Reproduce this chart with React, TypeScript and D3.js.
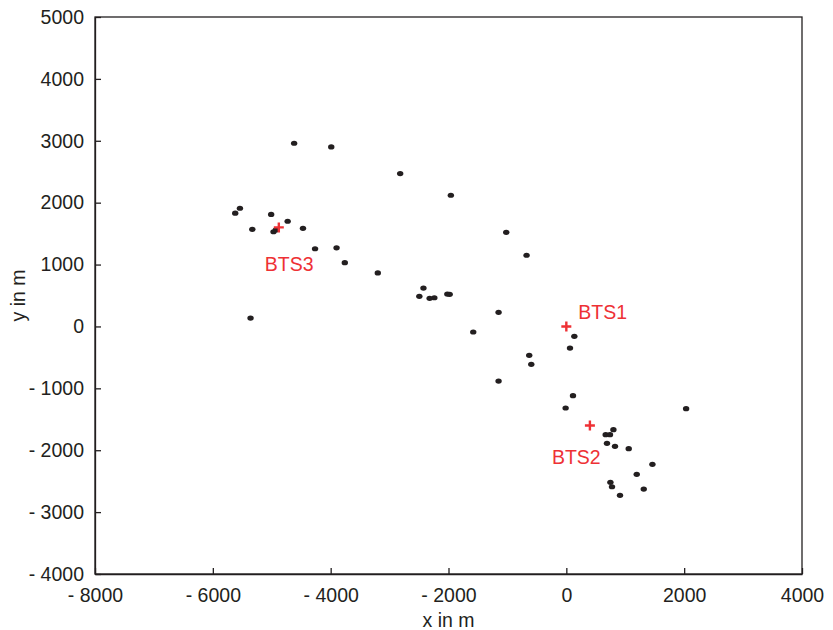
import { useEffect, useRef } from "react";
import * as d3 from "d3";

const WIDTH = 833;
const HEIGHT = 630;
const MARGIN = { top: 17, right: 31, bottom: 56, left: 95 };

const X_DOMAIN = [-8000, 4000];
const Y_DOMAIN = [-4000, 5000];
const X_TICKS = [-8000, -6000, -4000, -2000, 0, 2000, 4000];
const Y_TICKS = [-4000, -3000, -2000, -1000, 0, 1000, 2000, 3000, 4000, 5000];

// mobile positions (m)
const MS_X = [
  -4620, -3990, -2820, -1960, -5540, -5620, -5010, -4730, -5330, -4970, -4930,
  -4470, -4265, -3900, -3760, -3200, -1020, -675, -2425, -2495, -2320, -2240,
  -2020, -1980, -5360, -1150, -1580, -630, -595, -1150, 136, 62, 113, -12, 2033,
  799, 668, 741, 690, 826, 1059, 1461, 1195, 748, 775, 1314, 911,
];
const MS_Y = [
  2960, 2900, 2470, 2120, 1910, 1830, 1810, 1700, 1570, 1530, 1560, 1585, 1255,
  1270, 1030, 865, 1520, 1150, 620, 486, 454, 464, 523, 519, 136, 228, -90, -467,
  -612, -882, -160, -349, -1119, -1318, -1329, -1668, -1749, -1749, -1889,
  -1937, -1975, -2228, -2390, -2519, -2590, -2627, -2729,
];

// base stations
const BTS_NAMES = ["BTS1", "BTS2", "BTS3"];
const BTS_X = [0, 400, -4880];
const BTS_Y = [0, -1600, 1600];
// label offset from the cross, in px
const BTS_LABEL_DX = [12, -38, -14];
const BTS_LABEL_DY = [-7, 39, 44];

const FONT = "Helvetica, 'Liberation Sans', Arial, sans-serif";
const FONT_SIZE = 19.5;
const INK = "#231f20";
const RED = "#ee3135";

const fmt = (d: number) => (d < 0 ? `- ${Math.abs(d)}` : `${d}`);

function App() {
  const ref = useRef<SVGSVGElement | null>(null);

  useEffect(() => {
    const svg = d3.select(ref.current);
    svg.selectAll("*").remove();

    const innerW = WIDTH - MARGIN.left - MARGIN.right;
    const innerH = HEIGHT - MARGIN.top - MARGIN.bottom;

    const x = d3.scaleLinear().domain(X_DOMAIN).range([0, innerW]);
    const y = d3.scaleLinear().domain(Y_DOMAIN).range([innerH, 0]);

    const g = svg
      .append("g")
      .attr("transform", `translate(${MARGIN.left},${MARGIN.top})`);

    const xAxis = d3
      .axisBottom(x)
      .tickValues(X_TICKS)
      .tickFormat((d) => fmt(+d))
      .tickSizeInner(-6)
      .tickSizeOuter(0)
      .tickPadding(14);
    const yAxis = d3
      .axisLeft(y)
      .tickValues(Y_TICKS)
      .tickFormat((d) => fmt(+d))
      .tickSizeInner(-6)
      .tickSizeOuter(0)
      .tickPadding(11);

    const gx = g
      .append("g")
      .attr("transform", `translate(0,${innerH})`)
      .call(xAxis);
    const gy = g.append("g").call(yAxis);

    [gx, gy].forEach((a) => {
      a.selectAll("path, line").attr("stroke", INK).attr("stroke-width", 1.3);
      a.selectAll("text")
        .attr("fill", INK)
        .attr("font-family", FONT)
        .attr("font-size", FONT_SIZE);
    });

    // box
    g.append("rect")
      .attr("width", innerW)
      .attr("height", innerH)
      .attr("fill", "none")
      .attr("stroke", INK)
      .attr("stroke-width", 1.3);

    // axis titles
    g.append("text")
      .attr("x", innerW / 2)
      .attr("y", innerH + 53)
      .attr("text-anchor", "middle")
      .attr("font-family", FONT)
      .attr("font-size", FONT_SIZE)
      .attr("fill", INK)
      .text("x in m");
    g.append("text")
      .attr("transform", "rotate(-90)")
      .attr("x", -innerH / 2)
      .attr("y", -MARGIN.left + 25)
      .attr("text-anchor", "middle")
      .attr("font-family", FONT)
      .attr("font-size", FONT_SIZE)
      .attr("fill", INK)
      .text("y in m");

    // mobiles
    g.append("g")
      .selectAll("ellipse")
      .data(d3.range(MS_X.length))
      .join("ellipse")
      .attr("cx", (i) => x(MS_X[i]))
      .attr("cy", (i) => y(MS_Y[i]))
      .attr("rx", 3.2)
      .attr("ry", 2.6)
      .attr("fill", INK);

    // base stations
    const bts = g
      .append("g")
      .selectAll("g")
      .data(d3.range(BTS_NAMES.length))
      .join("g")
      .attr("transform", (i) => `translate(${x(BTS_X[i])},${y(BTS_Y[i])})`);
    bts
      .append("path")
      .attr("d", "M-5,0H5M0,-5V5")
      .attr("stroke", RED)
      .attr("stroke-width", 2.4);
    bts
      .append("text")
      .attr("x", (i) => BTS_LABEL_DX[i])
      .attr("y", (i) => BTS_LABEL_DY[i])
      .attr("font-family", FONT)
      .attr("font-size", FONT_SIZE)
      .attr("fill", RED)
      .text((i) => BTS_NAMES[i]);
  }, []);

  return (
    <div style={{ position: "absolute", left: 0, top: 0, background: "#fff" }}>
      <svg ref={ref} width={WIDTH} height={HEIGHT} />
    </div>
  );
}

export default App;
